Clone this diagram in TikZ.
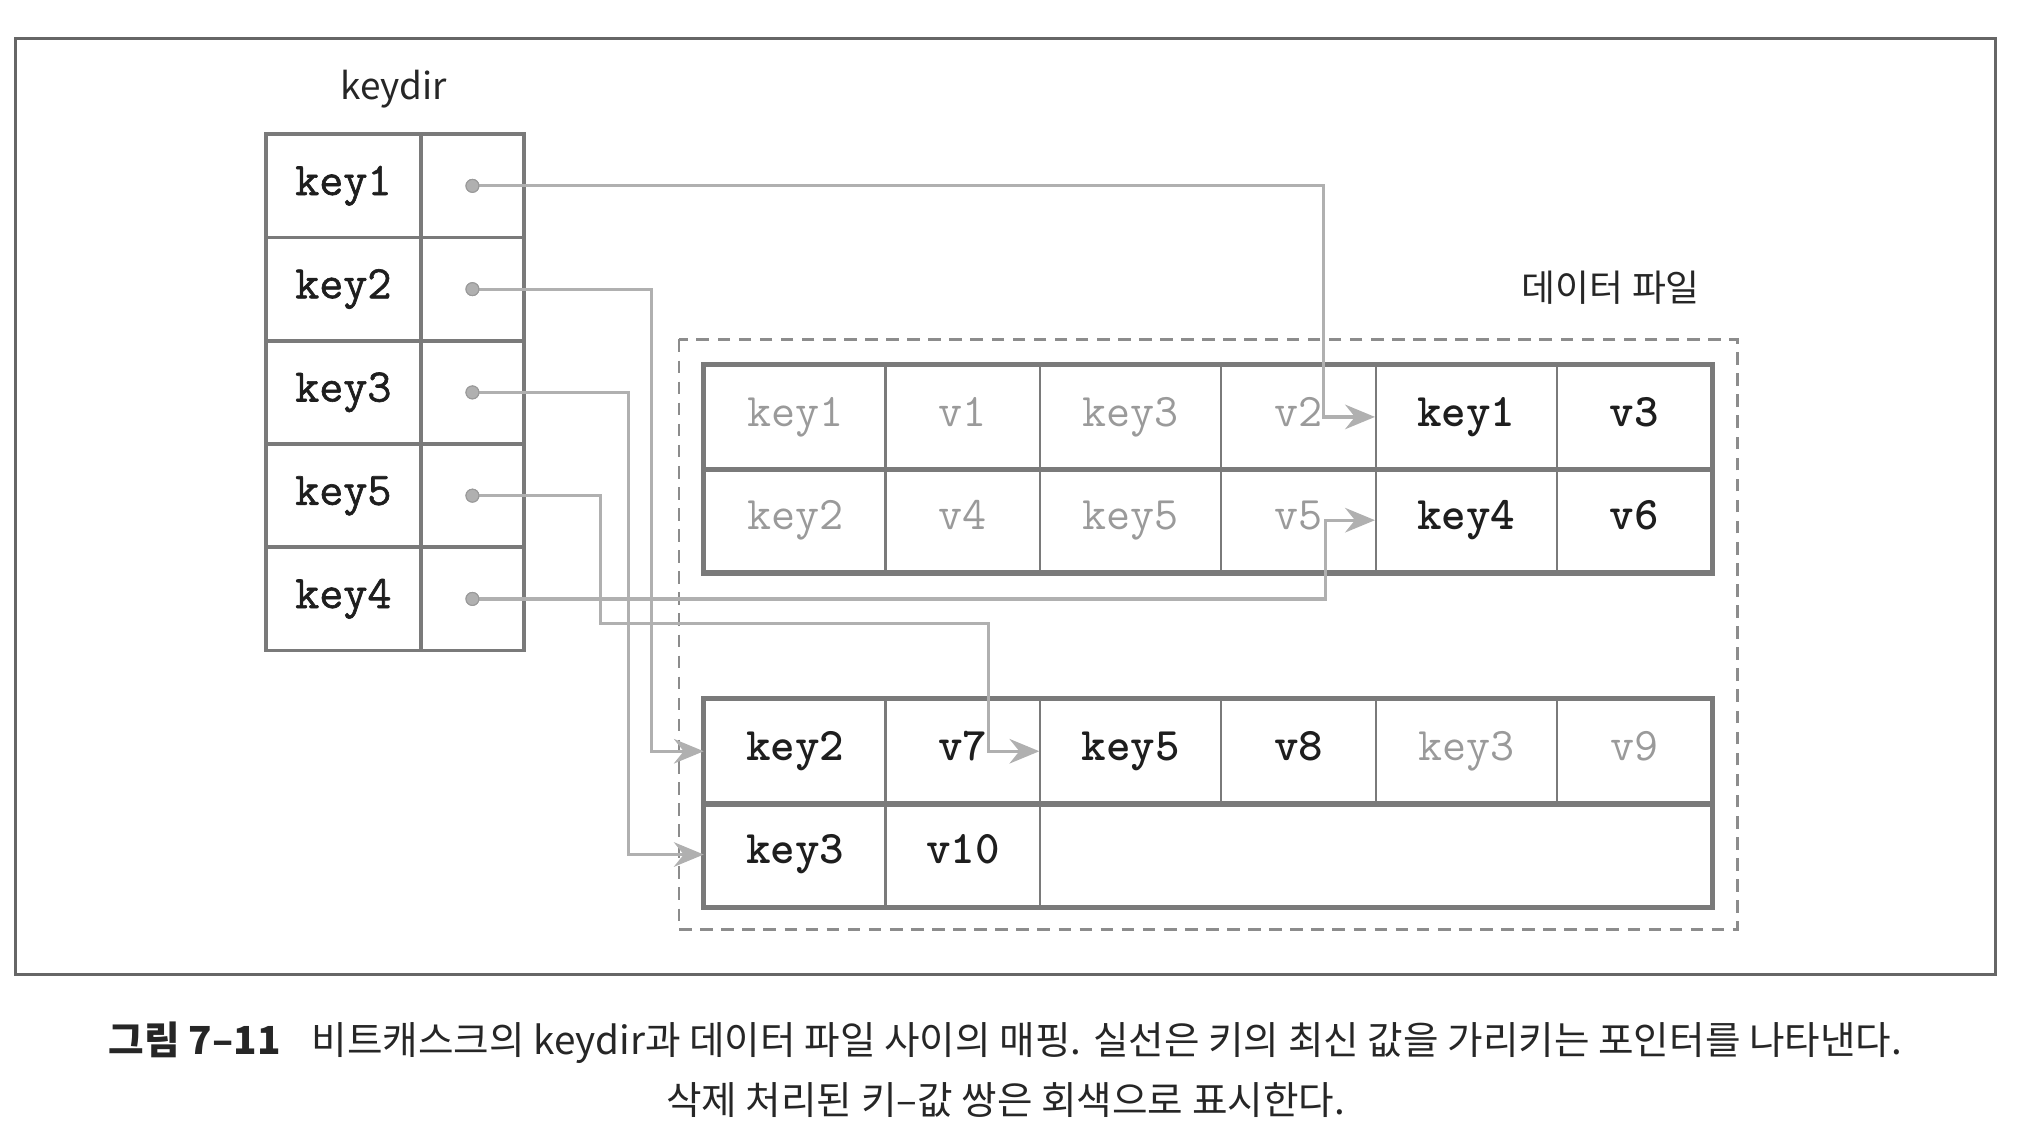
\documentclass[tikz,border=0pt]{standalone}
\usepackage{fontspec}
\newfontfamily\kr{Noto Sans CJK KR}
\newfontfamily\monomed{Latin Modern Mono}[FakeBold=1.3]
\usetikzlibrary{arrows.meta}
\newcommand{\pxu}{0.3675pt}
\definecolor{tabline}{HTML}{7A7A7A}
\definecolor{conngray}{HTML}{B0B0B0}
\definecolor{fadetext}{HTML}{9A9A9A}
\definecolor{darktext}{HTML}{1E1E1E}
\definecolor{dashgray}{HTML}{8C8C8C}
\tikzset{
  dircell/.style={draw=tabline, line width=1.1pt, minimum height=80*\pxu, inner sep=0pt,
    text height=7.6pt, text depth=2.4pt,
    font=\fontsize{13.3}{14}\monomed, text=darktext},
  keycell/.style={dircell, minimum width=120*\pxu},
  ptrcell/.style={dircell, minimum width=80*\pxu},
  datacell/.style={draw=tabline, line width=0.6pt, minimum height=80*\pxu, inner sep=0pt,
    text height=7.6pt, text depth=2.4pt,
    font=\fontsize{13.3}{14}\ttfamily},
  kcell/.style={datacell, minimum width=140*\pxu},
  vcell/.style={datacell, minimum width=120*\pxu},
  live/.style={text=darktext, font=\fontsize{13.3}{14}\ttfamily\bfseries},
  dead/.style={text=fadetext},
  dot/.style={circle, fill=conngray, draw=fadetext, line width=0.3pt, minimum size=10*\pxu, inner sep=0pt},
  conn/.style={draw=conngray, line width=0.9pt, -{Stealth[length=8.5pt,width=7pt,inset=2.8pt]}},
  outer/.style={draw=tabline, line width=1.5pt},
  label/.style={font=\kr\fontsize{10.5}{12}\selectfont, text=black!85},
  caption/.style={font=\kr\fontsize{11}{13}\selectfont, text=black!85},
}
\begin{document}
\begin{tikzpicture}[x=\pxu,y=-\pxu]
\useasboundingbox (0,0) rectangle (1568,886);
% outer frame
\draw[draw=black!60, line width=0.7pt] (12,30) rectangle (1546,755);

% keydir
\node[label] (kdlab) at (305,69) {keydir};
\foreach \nm/\txt/\yy in {1/key1/144,2/key2/224,3/key3/304,5/key5/384,4/key4/464}{
  \node[keycell] (k\nm) at (266,\yy) {\txt};
  \node[ptrcell] (p\nm) at (366,\yy) {};
  \node[dot] (d\nm) at (366,\yy) {};
}

% data file
\node[label] (dflab) at (1248,223) {데이터 파일};
\draw[dashgray, line width=0.8pt, dash pattern=on 3.6pt off 2.4pt] (526,263) rectangle (1346,720);

% upper table
\node[kcell,dead] (u11) at (616,323) {key1};
\node[vcell,dead] (u12) at (746,323) {v1};
\node[kcell,dead] (u13) at (876,323) {key3};
\node[vcell,dead] (u14) at (1006,323) {v2};
\node[kcell,live] (u15) at (1136,323) {key1};
\node[vcell,live] (u16) at (1266,323) {v3};
\node[kcell,dead] (u21) at (616,403) {key2};
\node[vcell,dead] (u22) at (746,403) {v4};
\node[kcell,dead] (u23) at (876,403) {key5};
\node[vcell,dead] (u24) at (1006,403) {v5};
\node[kcell,live] (u25) at (1136,403) {key4};
\node[vcell,live] (u26) at (1266,403) {v6};
\draw[outer] (u11.north west) rectangle (u26.south east);
\draw[outer] (u11.south west) -- (u16.south east);

% lower table
\node[kcell,live] (l11) at (616,582) {key2};
\node[vcell,live] (l12) at (746,582) {v7};
\node[kcell,live] (l13) at (876,582) {key5};
\node[vcell,live] (l14) at (1006,582) {v8};
\node[kcell,dead] (l15) at (1136,582) {key3};
\node[vcell,dead] (l16) at (1266,582) {v9};
\node[kcell,live] (l21) at (616,662) {key3};
\node[vcell,live] (l22) at (746,662) {v10};
\node[datacell, minimum width=520*\pxu] (l23) at (1066,662) {};
\draw[outer] (l11.north west) rectangle (l23.south east);
\draw[outer] (l11.south west) -- (l16.south east);

% connectors
\coordinate (x1) at (1025,0);
\coordinate (x2) at (505,0);
\coordinate (x3) at (487,0);
\coordinate (x4) at (1027,0);
\coordinate (k5a) at (465,483);
\coordinate (k5b) at (766,483);
\draw[conn] (d1) -- (d1 -| x1) |- (u15.west);
\draw[conn] (d2) -- (d2 -| x2) |- (l11.west);
\draw[conn] (d3) -- (d3 -| x3) |- (l21.west);
\draw[conn] (d5) -| (k5a) -- (k5b) |- (l13.west);
\draw[conn] (d4) -- (d4 -| x4) |- (u25.west);
\foreach \nm in {1,2,3,4,5}{\node[dot] at (d\nm) {};}

% caption
\node[caption] (cap1) at (779,808)
  {{\bfseries 그림 7–11}\hspace{0.8em}비트캐스크의 keydir과 데이터 파일 사이의 매핑. 실선은 키의 최신 값을 가리키는 포인터를 나타낸다.};
\node[caption] (cap2) at (779,852)
  {삭제 처리된 키–값 쌍은 회색으로 표시한다.};
\end{tikzpicture}
\end{document}
